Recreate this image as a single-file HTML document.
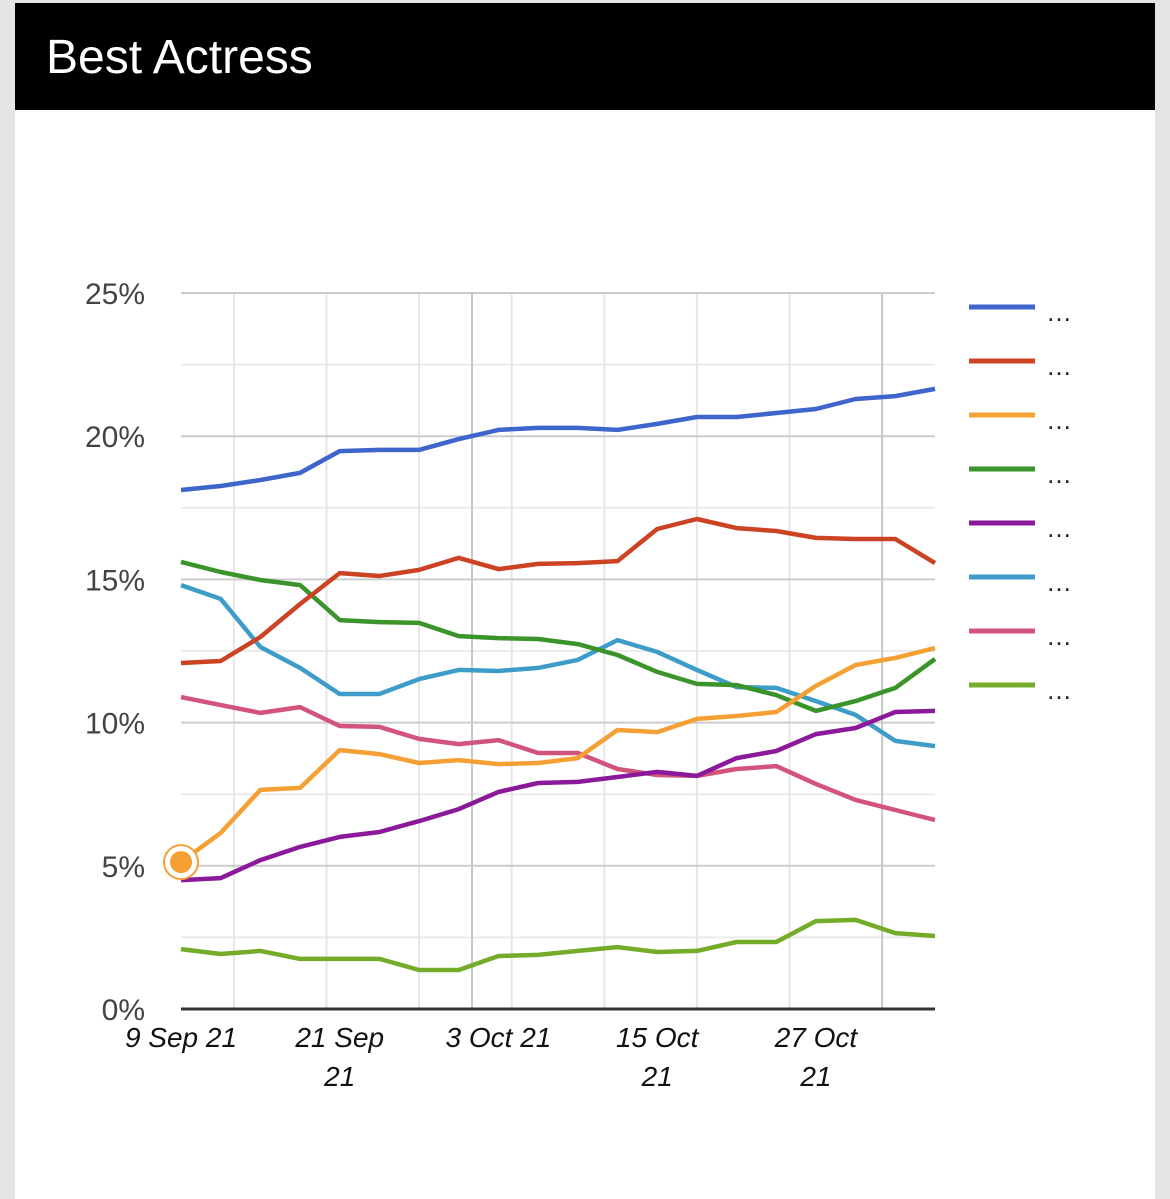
<!DOCTYPE html>
<html><head><meta charset="utf-8"><style>
html,body{margin:0;padding:0;background:#e5e5e5;}
body{width:1170px;height:1199px;position:relative;overflow:hidden;font-family:"Liberation Sans",Arial,sans-serif;}
#card{position:absolute;left:15px;top:3px;width:1140px;height:1196px;background:#fff;}
#hdr{position:absolute;left:15px;top:3px;width:1140px;height:107px;background:#000;}
#title{position:absolute;left:46px;top:28px;color:#fff;font-size:48px;line-height:60px;margin:0;font-weight:normal;}
svg{position:absolute;left:0;top:0;}
</style></head><body>
<div id="card"></div>
<div id="hdr"></div>
<h1 id="title">Best Actress</h1>
<svg id="chart" width="1170" height="1199"></svg>
<script>
const dayOffsets=[0,3,6,9,12,15,18,21,24,27,30,33,36,39,42,45,48,51,54,57];
const seriesNames=["…","…","…","…","…","…","…","…"];
const seriesColors=["#3d65cc","#cc4324","#f4a035","#3a942b","#8b1a9a","#3d9cc8","#d2547a","#74ab28"];
const blue=[18.12,18.26,18.47,18.72,19.48,19.52,19.52,19.90,20.22,20.29,20.29,20.22,20.43,20.67,20.67,20.81,20.95,21.30,21.40,21.65];
const red=[12.08,12.15,12.99,14.14,15.22,15.12,15.33,15.75,15.36,15.54,15.57,15.64,16.76,17.11,16.79,16.69,16.45,16.41,16.41,15.57];
const orange=[5.13,6.15,7.65,7.72,9.04,8.90,8.59,8.69,8.55,8.59,8.76,9.74,9.67,10.13,10.23,10.37,11.28,12.01,12.26,12.60];
const green=[15.61,15.26,14.98,14.80,13.58,13.51,13.48,13.02,12.95,12.92,12.74,12.36,11.77,11.35,11.31,10.96,10.41,10.75,11.21,12.22];
const purple=[4.50,4.57,5.20,5.66,6.01,6.18,6.56,6.98,7.58,7.89,7.93,8.10,8.28,8.14,8.76,9.01,9.60,9.81,10.37,10.41];
const cyan=[14.80,14.32,12.64,11.91,11.00,11.00,11.52,11.84,11.80,11.91,12.19,12.88,12.47,11.84,11.24,11.21,10.75,10.27,9.36,9.18];
const pink=[10.89,10.61,10.34,10.54,9.88,9.85,9.43,9.25,9.39,8.94,8.94,8.38,8.17,8.14,8.38,8.48,7.86,7.30,6.95,6.60];
const lime=[2.09,1.92,2.03,1.75,1.75,1.75,1.36,1.36,1.85,1.89,2.03,2.16,1.99,2.03,2.34,2.34,3.07,3.11,2.65,2.55];
const yTicks=[0,5,10,15,20,25];
const yTickLabels=["0%","5%","10%","15%","20%","25%"];
const xTickDays=[0,12,24,36,48];
const xTickLines=[["9 Sep 21"],["21 Sep","21"],["3 Oct 21"],["15 Oct","21"],["27 Oct","21"]];
const weekGridDays=[4,11,18,25,32,39,46];
const monthGridDays=[22,53];

const NS="http://www.w3.org/2000/svg";
const svg=document.getElementById('chart');
const L=181,R=935,T=293,B=1009;
const x=d=>L+d*(R-L)/57;
const y=v=>B-v*(B-T)/25;
function mk(tag,attrs,parent){const e=document.createElementNS(NS,tag);for(const k in attrs)e.setAttribute(k,attrs[k]);(parent||svg).appendChild(e);return e;}

for(let v=2.5;v<25;v+=5){const g=mk('line',{x1:L,x2:R,y1:y(v),y2:y(v),stroke:'#ebebeb','stroke-width':2});

}
weekGridDays.forEach(d=>{const g=mk('line',{x1:x(d),x2:x(d),y1:T,y2:B,stroke:'#e6e6e6','stroke-width':2});

});
monthGridDays.forEach(d=>{const g=mk('line',{x1:x(d),x2:x(d),y1:T,y2:B,stroke:'#c8c8c8','stroke-width':2});

});
yTicks.forEach((v,i)=>{
 if(v>0){const g=mk('line',{x1:L,x2:R,y1:y(v),y2:y(v),stroke:'#cccccc','stroke-width':2});
 
 }
 const t=mk('text',{x:145,y:y(v)+11,'text-anchor':'end','font-size':30,fill:'#444'});
 t.textContent=yTickLabels[i];
 
 
});
const ax=mk('line',{x1:L,x2:R,y1:B,y2:B,stroke:'#333','stroke-width':3});


xTickDays.forEach((d,i)=>{
 xTickLines[i].forEach((s,j)=>{
  const t=mk('text',{x:x(d),y:1047+j*39,'text-anchor':'middle','font-size':28,'font-style':'italic',fill:'#111'});
  t.textContent=s;
  
  
 });
});
const allSeries=[blue,red,orange,green,purple,cyan,pink,lime];
const order=[7,6,5,4,3,2,1,0];
order.forEach(si=>{
 const pts=allSeries[si].map((v,i)=>x(dayOffsets[i]).toFixed(1)+','+y(v).toFixed(1)).join(' ');
 const p=mk('polyline',{points:pts,fill:'none',stroke:seriesColors[si],'stroke-width':4.5,'stroke-linejoin':'round'});
 
 
});
const hc=mk('circle',{cx:x(dayOffsets[0]),cy:y(orange[0]),r:17,fill:'#fff',stroke:seriesColors[2],'stroke-width':2});


const hd=mk('circle',{cx:x(dayOffsets[0]),cy:y(orange[0]),r:11,fill:seriesColors[2]});


seriesNames.forEach((n,i)=>{
 const g=mk('g',{});
 
 
 const ly=307+i*54;
 mk('line',{x1:969,x2:1035,y1:ly,y2:ly,stroke:seriesColors[i],'stroke-width':5},g);
 const t=mk('text',{x:1046,y:ly+14,'font-size':26,fill:'#222'},g);
 t.textContent=n;
});
</script>
</body></html>
